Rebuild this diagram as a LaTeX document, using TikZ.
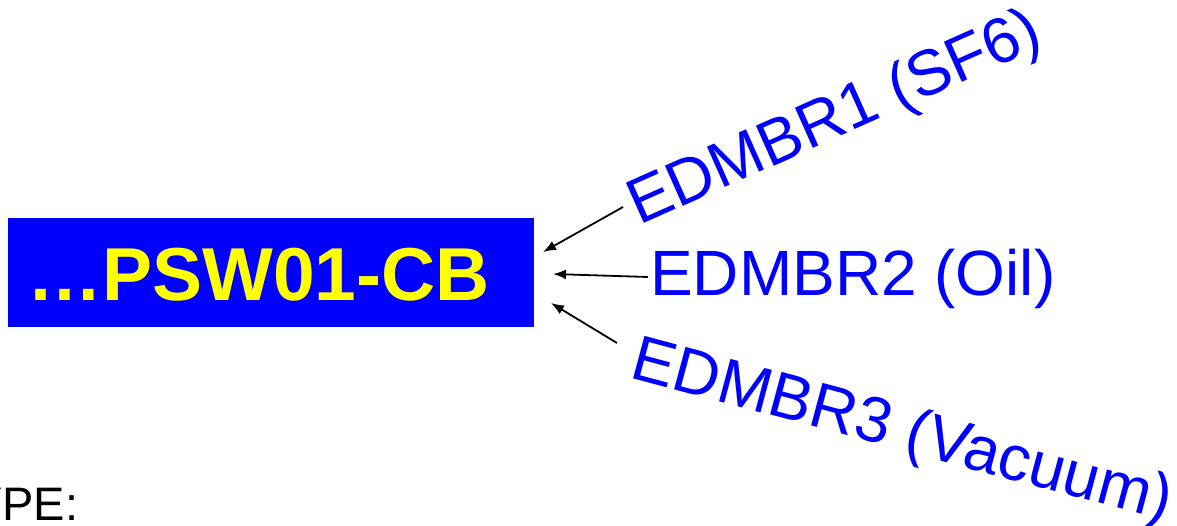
\documentclass[tikz,border=0pt]{standalone}
\usepackage{fontspec}
\setmainfont{Liberation Sans}
\usetikzlibrary{arrows.meta}
\definecolor{cbblue}{RGB}{0,0,255}
\definecolor{cbyellow}{RGB}{255,255,0}
\tikzstyle{cbbox}=[rectangle,
                   fill=cbblue,
                   draw=none,
                   inner sep=0pt,
                   minimum width=526pt,
                   minimum height=109pt]
\tikzstyle{cbtext}=[text=cbyellow,inner sep=0pt,font=\fontsize{75}{80}\selectfont\bfseries]
\tikzstyle{breaker}=[text=cbblue,inner sep=0pt,anchor=base west,font=\fontsize{64}{70}\selectfont]
\tikzstyle{feed}=[-{Latex[length=13pt,width=10pt]},line width=1.8pt,draw=black]

\begin{document}
\begin{tikzpicture}[x=1pt,y=-1pt]
    \clip (0,0) rectangle (1177,526);
    \node[cbbox] (cb) at (271,272.5) {};
    \node[cbtext,anchor=base west] (cbname) at (27,301) {…PSW01-CB};
    \node[breaker,rotate=24] (edm1) at (639,226) {EDMBR1 (SF6)};
    \node[breaker] (edm2) at (650,296) {EDMBR2 (Oil)};
    \node[breaker,rotate=-15] (edm3) at (628,377) {EDMBR3 (Vacuum)};
    \node[anchor=base west,inner sep=0pt,font=\fontsize{47}{55}\selectfont] (type) at (-29,520) {YPE:};
    \coordinate (tip1) at (543,252);
    \coordinate (tip2) at (553,274);
    \coordinate (tip3) at (551,303);

    \draw[feed] ([shift={(-16,-19)}]edm1.base west) -- (tip1);
    \draw[feed] ([shift={(-2,-19)}]edm2.base west) -- (tip2);
    \draw[feed] ([shift={(-11,-34)}]edm3.base west) -- (tip3);
\end{tikzpicture}
\end{document}
